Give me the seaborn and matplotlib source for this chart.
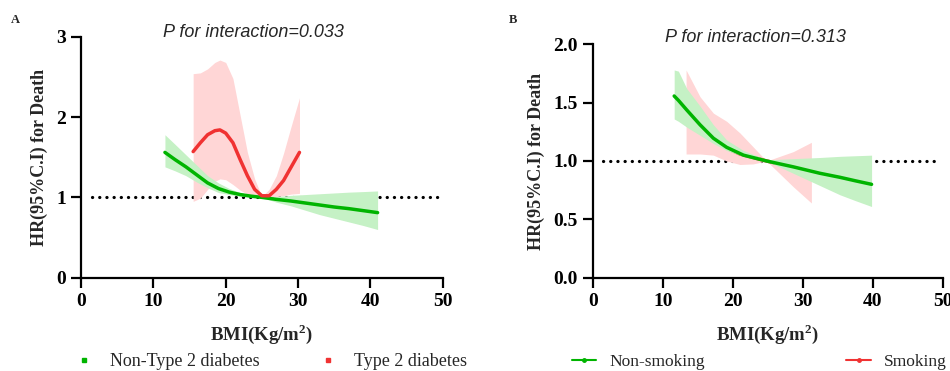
import matplotlib.pyplot as plt
import pandas as pd
import seaborn as sns
from matplotlib.lines import Line2D

# Panel A - diabetes
a_green_bmi = [11.6, 13.0, 14.5, 16.0, 17.5, 19.0, 20.5, 22.0, 23.5, 25.0, 27.0, 29.0, 31.0, 33.0, 35.0, 37.0, 39.0, 41.0]
a_green_hr = [1.56, 1.47, 1.38, 1.28, 1.18, 1.11, 1.065, 1.035, 1.015, 1.0, 0.975, 0.955, 0.93, 0.905, 0.88, 0.86, 0.835, 0.81]
a_green_hi = [1.78, 1.66, 1.53, 1.40, 1.27, 1.18, 1.11, 1.06, 1.025, 1.0, 1.01, 1.025, 1.035, 1.045, 1.055, 1.065, 1.072, 1.08]
a_green_lo = [1.38, 1.33, 1.27, 1.19, 1.12, 1.06, 1.035, 1.015, 1.005, 1.0, 0.94, 0.895, 0.84, 0.785, 0.74, 0.695, 0.65, 0.60]

a_red_bmi = [15.5, 16.5, 17.5, 18.5, 19.2, 20.0, 21.0, 22.0, 23.0, 24.0, 25.0, 26.0, 27.0, 28.0, 29.0, 30.2]
a_red_hr = [1.57, 1.68, 1.78, 1.83, 1.84, 1.80, 1.68, 1.47, 1.27, 1.10, 1.02, 1.02, 1.10, 1.21, 1.37, 1.56]
a_red_hi = [2.54, 2.55, 2.60, 2.68, 2.71, 2.68, 2.48, 2.02, 1.56, 1.23, 1.01, 1.10, 1.27, 1.55, 1.87, 2.24]
a_red_lo = [0.95, 0.99, 1.10, 1.20, 1.23, 1.22, 1.16, 1.09, 1.04, 1.01, 1.0, 1.0, 1.01, 1.02, 1.04, 1.05]

# Panel B - smoking
b_green_bmi = [11.6, 12.2, 13.4, 15.3, 17.2, 19.1, 21.5, 24.8, 28.6, 32.4, 35.3, 37.5, 39.8]
b_green_hr = [1.557, 1.52, 1.437, 1.31, 1.195, 1.117, 1.05, 1.0, 0.95, 0.895, 0.86, 0.83, 0.80]
b_green_hi = [1.78, 1.77, 1.62, 1.47, 1.31, 1.18, 1.09, 1.01, 1.02, 1.03, 1.04, 1.045, 1.05]
b_green_lo = [1.36, 1.34, 1.29, 1.22, 1.15, 1.09, 1.04, 1.0, 0.895, 0.79, 0.71, 0.66, 0.61]

b_red_bmi = [13.3, 15.3, 17.2, 19.1, 21.0, 22.9, 24.8, 28.6, 31.2]
b_red_hr = [1.42, 1.30, 1.19, 1.11, 1.06, 1.03, 1.0, 0.95, 0.92]
b_red_hi = [1.78, 1.55, 1.41, 1.34, 1.24, 1.12, 1.0, 1.08, 1.16]
b_red_lo = [1.06, 1.06, 1.05, 1.0, 0.97, 0.975, 1.0, 0.78, 0.64]

GREEN = '#00b400'
RED = '#f03232'
GREEN_BAND = '#c5f1c5'
RED_BAND = '#ffd6d6'

sns.set_style('ticks')
plt.rcParams['font.family'] = ['Liberation Serif', 'DejaVu Serif']
plt.rcParams['mathtext.fontset'] = 'custom'
plt.rcParams['mathtext.rm'] = 'Liberation Serif:bold'
plt.rcParams['mathtext.bf'] = 'Liberation Serif:bold'

fig = plt.figure(figsize=(9.5, 3.71), dpi=100)
ax_a = fig.add_axes([0.0853, 0.2515, 0.3807, 0.6495])
ax_b = fig.add_axes([0.6242, 0.2515, 0.3684, 0.6291])


def draw_panel(ax, g_bmi, g_hr, g_lo, g_hi, r_bmi, r_hr, r_lo, r_hi, red_line_top):
    ax.hlines(1, 1.5, 49.5, colors='black', linewidth=2.3,
              linestyles=(0, (0.05, 2.2)), zorder=1, capstyle='round')
    ax.fill_between(r_bmi, r_lo, r_hi, color=RED_BAND, linewidth=0, zorder=2)
    red = pd.DataFrame({'bmi': r_bmi, 'hr': r_hr})
    green = pd.DataFrame({'bmi': g_bmi, 'hr': g_hr})
    sns.lineplot(data=red, x='bmi', y='hr', color=RED, linewidth=2.5, ax=ax,
                 zorder=5 if red_line_top else 2.5)
    ax.fill_between(g_bmi, g_lo, g_hi, color=GREEN_BAND, linewidth=0, zorder=3)
    sns.lineplot(data=green, x='bmi', y='hr', color=GREEN, linewidth=2.5, ax=ax, zorder=4)
    sns.despine(ax=ax)
    for s in ['left', 'bottom']:
        ax.spines[s].set_linewidth(1.6)
        ax.spines[s].set_color('black')
    ax.tick_params(direction='out', length=7, width=1.6, pad=4, colors='black')
    ax.set_xlim(0, 50)
    ax.set_xticks([0, 10, 20, 30, 40, 50])
    ax.set_xticklabels(['0', '10', '20', '30', '40', '50'], fontweight='bold', fontsize=14)
    ax.set_xlabel('BMI(Kg/m$^{2}$)', fontsize=13.5, fontweight='bold', labelpad=9)
    ax.set_ylabel('HR(95%C.I) for Death', fontsize=13, fontweight='bold', labelpad=6)


draw_panel(ax_a, a_green_bmi, a_green_hr, a_green_lo, a_green_hi,
           a_red_bmi, a_red_hr, a_red_lo, a_red_hi, True)
ax_a.set_ylim(0, 3)
ax_a.set_yticks([0, 1, 2, 3])
ax_a.set_yticklabels(['0', '1', '2', '3'], fontweight='bold', fontsize=14)
ax_a.text(23.8, 3.05, 'P for interaction=0.033', ha='center', va='center',
          fontsize=13, style='italic', family=['Liberation Sans'])

draw_panel(ax_b, b_green_bmi, b_green_hr, b_green_lo, b_green_hi,
           b_red_bmi, b_red_hr, b_red_lo, b_red_hi, False)
ax_b.set_ylim(0, 2)
ax_b.set_yticks([0, 0.5, 1.0, 1.5, 2.0])
ax_b.set_yticklabels(['0.0', '0.5', '1.0', '1.5', '2.0'], fontweight='bold', fontsize=14)
ax_b.text(23.2, 2.06, 'P for interaction=0.313', ha='center', va='center',
          fontsize=13, style='italic', family=['Liberation Sans'])

fig.text(15 / 950, 1 - 20 / 371, 'A', fontsize=9, fontweight='bold', ha='center', va='center')
fig.text(513 / 950, 1 - 20 / 371, 'B', fontsize=9, fontweight='bold', ha='center', va='center')

# legends
leg_kw = dict(frameon=False, ncol=2, loc='center left', borderaxespad=0, borderpad=0,
              handlelength=1.4, handletextpad=0.75)
h_a = [Line2D([], [], color=GREEN, marker='s', markersize=2.5, linestyle='none'),
       Line2D([], [], color=RED, marker='s', markersize=2.5, linestyle='none')]
fig.legend(h_a, ['Non-Type 2 diabetes', 'Type 2 diabetes'], columnspacing=3.1,
           fontsize=13, bbox_to_anchor=(71 / 950, 1 - 362 / 371), **leg_kw)
h_b = [Line2D([], [], color=GREEN, marker='o', markersize=2.5, linewidth=1.5),
       Line2D([], [], color=RED, marker='o', markersize=2.5, linewidth=1.5)]
fig.legend(h_b, ['Non-smoking', 'Smoking'], columnspacing=8.15,
           fontsize=12.5, bbox_to_anchor=(572 / 950, 1 - 362 / 371), **leg_kw)

fig.savefig('out.png', dpi=100)
